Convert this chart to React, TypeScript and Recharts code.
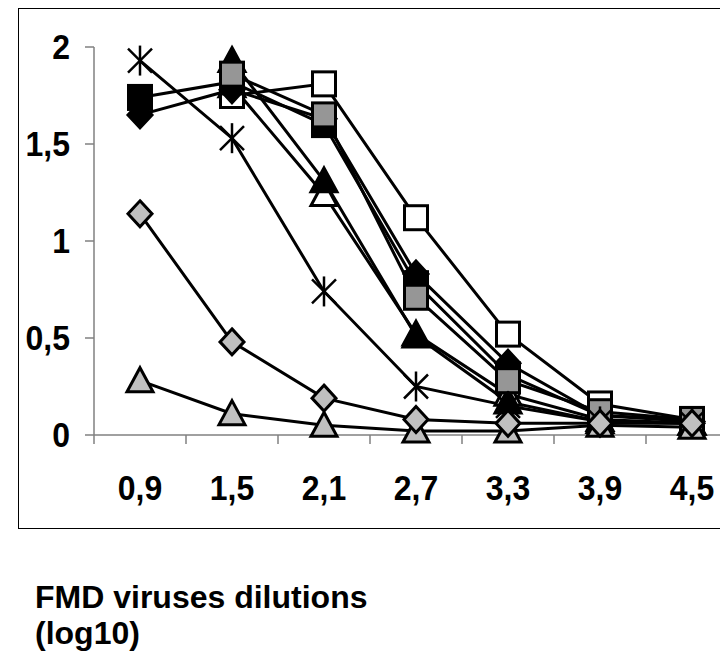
import React from "react";
import { ComposedChart, Line, XAxis, YAxis } from "recharts";

const categories = ["0,9", "1,5", "2,1", "2,7", "3,3", "3,9", "4,5"];

const openTriangle = [null, 1.8, 1.24, 0.52, 0.21, 0.08, 0.06];
const blackTriangle = [null, 1.93, 1.31, 0.51, 0.17, 0.07, 0.06];
const openSquare = [null, 1.75, 1.81, 1.12, 0.52, 0.16, 0.08];
const blackSquare = [1.74, 1.82, 1.6, 0.78, 0.31, 0.1, 0.08];
const blackDiamond = [1.65, 1.78, 1.63, 0.83, 0.37, 0.1, 0.07];
const graySquare = [null, 1.86, 1.65, 0.71, 0.28, 0.12, 0.08];
const star = [1.93, 1.53, 0.74, 0.25, 0.15, 0.07, 0.06];
const grayTriangle = [0.28, 0.11, 0.05, 0.02, 0.02, 0.05, 0.04];
const grayDiamond = [1.14, 0.48, 0.19, 0.08, 0.06, 0.06, 0.06];

const yTicks = [0, 0.5, 1, 1.5, 2];

const data = categories.map((c, i) => ({
  dilution: c,
  openTriangle: openTriangle[i],
  blackTriangle: blackTriangle[i],
  openSquare: openSquare[i],
  blackSquare: blackSquare[i],
  blackDiamond: blackDiamond[i],
  graySquare: graySquare[i],
  star: star[i],
  grayTriangle: grayTriangle[i],
  grayDiamond: grayDiamond[i],
}));

const series = [
  { key: "openTriangle", shape: "triangle", fill: "#ffffff" },
  { key: "blackTriangle", shape: "triangle", fill: "#000000" },
  { key: "openSquare", shape: "square", fill: "#ffffff" },
  { key: "blackSquare", shape: "square", fill: "#000000" },
  { key: "blackDiamond", shape: "diamond", fill: "#000000" },
  { key: "graySquare", shape: "square", fill: "#969696" },
  { key: "star", shape: "star", fill: "none" },
  { key: "grayTriangle", shape: "triangle", fill: "#c0c0c0" },
  { key: "grayDiamond", shape: "diamond", fill: "#c0c0c0" },
];

const font = "'Liberation Sans', Arial, sans-serif";
const axisGray = "#808080";

const marker = (shape: string, fill: string) => (props: any) => {
  const { cx, cy, index } = props;
  if (cx == null || cy == null || props.value == null) return <g key={index} />;
  const st = { stroke: "#000", strokeWidth: 3, fill };
  if (shape === "square")
    return <rect key={index} x={cx - 11.5} y={cy - 12} width={23} height={24} {...st} />;
  if (shape === "diamond")
    return (
      <polygon key={index} points={`${cx},${cy - 13} ${cx + 12},${cy} ${cx},${cy + 13} ${cx - 12},${cy}`} {...st} />
    );
  if (shape === "triangle")
    return (
      <polygon key={index} points={`${cx},${cy - 13} ${cx + 13},${cy + 11} ${cx - 13},${cy + 11}`} strokeLinejoin="miter" {...st} />
    );
  return (
    <g key={index} stroke="#000" strokeWidth={2.5}>
      <line x1={cx} y1={cy - 15} x2={cx} y2={cy + 15} />
      <line x1={cx - 12} y1={cy - 12} x2={cx + 12} y2={cy + 12} />
      <line x1={cx - 12} y1={cy + 12} x2={cx + 12} y2={cy - 12} />
    </g>
  );
};

const XTick = (props: any) => {
  const { x, y, payload, index, visibleTicksCount } = props;
  const off = payload.offset || 0;
  return (
    <g>
      <line x1={x - off} y1={y} x2={x - off} y2={y + 9} stroke={axisGray} strokeWidth={1.5} />
      {index === visibleTicksCount - 1 && (
        <line x1={x + off} y1={y} x2={x + off} y2={y + 9} stroke={axisGray} strokeWidth={1.5} />
      )}
      <text
        transform={`translate(${x},${y + 65}) scale(1,1.12)`}
        textAnchor="middle"
        fontFamily={font}
        fontWeight="bold"
        fontSize={32}
        fill="#000"
      >
        {payload.value}
      </text>
    </g>
  );
};

const YTick = (props: any) => {
  const { x, y, payload } = props;
  return (
    <text
      transform={`translate(${x},${y + 12}) scale(1,1.12)`}
      textAnchor="end"
      fontFamily={font}
      fontWeight="bold"
      fontSize={32}
      fill="#000"
    >
      {String(payload.value).replace(".", ",")}
    </text>
  );
};

export default function App() {
  return (
    <div style={{ position: "relative", width: 720, height: 649, overflow: "hidden", background: "#fff" }}>
      <div
        style={{
          position: "absolute",
          left: 10,
          top: 0,
          width: 800,
          height: 521,
          border: "1.5px solid #000",
          boxSizing: "border-box",
        }}
      />
      <div style={{ position: "absolute", left: 0, top: 0 }}>
        <ComposedChart width={740} height={520} data={data} margin={{ top: 39, right: 10, left: 26, bottom: 10 }}>
          <XAxis
            dataKey="dilution"
            scale="band"
            height={83}
            axisLine={{ stroke: axisGray, strokeWidth: 1.5 }}
            tickLine={false}
            tickSize={0}
            tickMargin={0}
            interval={0}
            tick={<XTick />}
          />
          <YAxis
            width={60}
            domain={[0, 2]}
            ticks={yTicks}
            axisLine={{ stroke: axisGray, strokeWidth: 1.5 }}
            tickLine={{ stroke: axisGray, strokeWidth: 1.5 }}
            tickSize={9}
            tickMargin={15}
            tick={<YTick />}
          />
          {series.map((s) => (
            <Line
              key={s.key}
              dataKey={s.key}
              stroke="#000"
              strokeWidth={3}
              dot={marker(s.shape, s.fill)}
              activeDot={false}
              isAnimationActive={false}
            />
          ))}
        </ComposedChart>
      </div>
      <div
        style={{
          position: "absolute",
          left: 27,
          top: 571,
          fontFamily: font,
          fontWeight: "bold",
          fontSize: 32,
          lineHeight: "36px",
          color: "#000",
        }}
      >
        FMD viruses dilutions
        <br />
        (log10)
      </div>
    </div>
  );
}
